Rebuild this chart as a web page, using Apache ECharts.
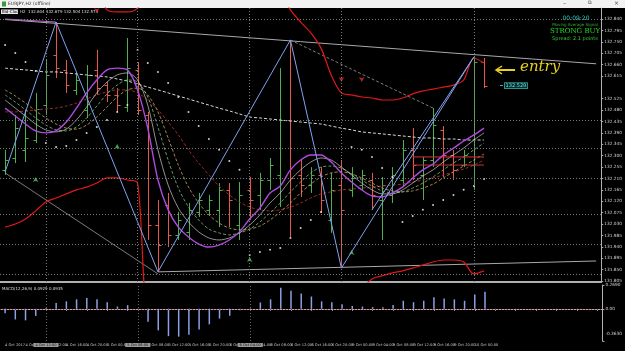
<!DOCTYPE html>
<html>
<head>
<meta charset="utf-8">
<script src="https://cdn.jsdelivr.net/npm/echarts@6/dist/echarts.min.js"></script>
<style>
html, body { margin: 0; padding: 0; background: #000; }
#main { width: 625px; height: 351px; }
</style>
</head>
<body>
<div id="main"></div>
<script>
// EURJPY H2 bars
var times = ['4 Oct 2017', '4 Oct 06:00', '4 Oct 08:00', '4 Oct 10:00', '4 Oct 12:00', '4 Oct 14:00', '4 Oct 16:00', '4 Oct 18:00', '4 Oct 20:00', '4 Oct 22:00',
	'5 Oct 00:00', '5 Oct 02:00', '5 Oct 04:00', '5 Oct 06:00', '5 Oct 08:00', '5 Oct 10:00', '5 Oct 12:00', '5 Oct 14:00', '5 Oct 16:00', '5 Oct 18:00', '5 Oct 20:00', '5 Oct 22:00',
	'6 Oct 00:00', '6 Oct 02:00', '6 Oct 04:00', '6 Oct 06:00', '6 Oct 08:00', '6 Oct 10:00', '6 Oct 12:00', '6 Oct 14:00', '6 Oct 16:00', '6 Oct 18:00', '6 Oct 20:00', '6 Oct 22:00',
	'9 Oct 00:00', '9 Oct 02:00', '9 Oct 04:00', '9 Oct 06:00', '9 Oct 08:00', '9 Oct 10:00', '9 Oct 12:00', '9 Oct 14:00', '9 Oct 16:00', '9 Oct 18:00', '9 Oct 20:00', '9 Oct 22:00',
	'10 Oct 00:00', '10 Oct 02:00',
	'', '', '', '', '', '', '', '', '', '', ''];

var opens = [132.244, 132.291, 132.323, 132.362, 132.500, 132.698, 132.639, 132.560, 132.481, 132.639, 132.579, 132.540, 132.492, 132.639, 132.461, 132.026, 132.105, 131.987, 131.999, 132.078, 132.086, 132.086, 132.165, 132.026, 132.165, 132.145, 132.204, 132.224, 132.441, 132.224, 132.184, 132.224, 132.046, 132.184, 132.165, 132.184, 132.204, 132.125, 132.145, 132.204, 132.323, 132.224, 132.283, 132.402, 132.303, 132.263, 132.263, 132.670];
var highs = [132.323, 132.461, 132.481, 132.548, 132.678, 132.828, 132.678, 132.631, 132.658, 132.718, 132.591, 132.567, 132.765, 132.670, 132.473, 132.125, 132.153, 132.078, 132.113, 132.153, 132.145, 132.192, 132.192, 132.196, 132.216, 132.232, 132.291, 132.646, 132.757, 132.283, 132.255, 132.255, 132.232, 132.283, 132.255, 132.244, 132.232, 132.216, 132.255, 132.362, 132.409, 132.295, 132.488, 132.417, 132.323, 132.323, 132.690, 132.686];
var lows = [132.224, 132.271, 132.275, 132.350, 132.461, 132.607, 132.548, 132.540, 132.449, 132.540, 132.512, 132.473, 132.473, 132.461, 131.967, 131.841, 131.939, 131.967, 131.967, 132.058, 132.066, 132.018, 132.018, 131.967, 132.046, 132.086, 132.165, 132.097, 131.979, 132.137, 132.153, 132.074, 131.995, 131.856, 132.137, 132.165, 132.086, 131.967, 132.113, 132.176, 132.204, 132.125, 132.255, 132.216, 132.204, 132.255, 132.165, 132.567];
var closes = [132.283, 132.409, 132.370, 132.485, 132.619, 132.646, 132.579, 132.599, 132.619, 132.567, 132.540, 132.500, 132.646, 132.481, 132.026, 131.947, 131.987, 132.046, 132.086, 132.125, 132.125, 132.165, 132.125, 132.145, 132.125, 132.204, 132.263, 132.441, 132.212, 132.184, 132.224, 132.125, 132.165, 132.086, 132.212, 132.224, 132.145, 132.184, 132.224, 132.323, 132.263, 132.283, 132.421, 132.303, 132.244, 132.303, 132.670, 132.575];

// moving averages
var maPurple = [132.488, 132.457, 132.425, 132.398, 132.390, 132.398, 132.433, 132.488, 132.548, 132.599, 132.639, 132.646, 132.639, 132.560, 132.409, 132.204, 132.086, 132.018, 131.979, 131.951, 131.939, 131.947, 131.967, 131.999, 132.050, 132.093, 132.153, 132.180, 132.244, 132.283, 132.303, 132.303, 132.275, 132.232, 132.196, 132.165, 132.141, 132.137, 132.153, 132.176, 132.212, 132.244, 132.267, 132.303, 132.330, 132.358, 132.382, 132.409];
var maWhite = [132.520, 132.488, 132.457, 132.425, 132.402, 132.394, 132.405, 132.441, 132.492, 132.548, 132.591, 132.619, 132.627, 132.599, 132.500, 132.323, 132.184, 132.093, 132.038, 131.999, 131.975, 131.967, 131.975, 131.995, 132.026, 132.066, 132.113, 132.153, 132.204, 132.244, 132.275, 132.291, 132.283, 132.255, 132.224, 132.192, 132.165, 132.149, 132.149, 132.165, 132.192, 132.220, 132.244, 132.275, 132.303, 132.330, 132.362, 132.390];
var maGreen = [132.540, 132.512, 132.481, 132.449, 132.421, 132.402, 132.398, 132.413, 132.449, 132.496, 132.544, 132.579, 132.599, 132.591, 132.532, 132.413, 132.283, 132.172, 132.097, 132.046, 132.010, 131.995, 131.987, 131.995, 132.010, 132.038, 132.074, 132.113, 132.157, 132.196, 132.232, 132.255, 132.259, 132.251, 132.228, 132.204, 132.180, 132.161, 132.153, 132.157, 132.172, 132.192, 132.216, 132.244, 132.271, 132.295, 132.323, 132.350];
var maYellow = [132.560, 132.536, 132.508, 132.477, 132.449, 132.425, 132.409, 132.405, 132.421, 132.453, 132.492, 132.532, 132.560, 132.567, 132.540, 132.473, 132.370, 132.263, 132.176, 132.113, 132.066, 132.034, 132.014, 132.007, 132.010, 132.022, 132.046, 132.078, 132.113, 132.153, 132.188, 132.216, 132.232, 132.236, 132.228, 132.212, 132.192, 132.172, 132.161, 132.157, 132.161, 132.172, 132.188, 132.212, 132.236, 132.259, 132.283, 132.307];
var maDarkRed = [132.473, 132.473, 132.477, 132.481, 132.485, 132.488, 132.496, 132.508, 132.524, 132.540, 132.552, 132.560, 132.560, 132.548, 132.520, 132.481, 132.433, 132.382, 132.323, 132.271, 132.224, 132.180, 132.145, 132.117, 132.097, 132.086, 132.082, 132.086, 132.097, 132.113, 132.133, 132.149, 132.157, 132.165, 132.168, 132.172, 132.176, 132.180, 132.184, 132.188, 132.196, 132.204, 132.212, 132.224, 132.236, 132.247, 132.263, 132.283];
var maLong = [132.646, 132.642, 132.639, 132.635, 132.631, 132.631, 132.627, 132.623, 132.619, 132.615, 132.611, 132.603, 132.595, 132.583, 132.571, 132.560, 132.548, 132.536, 132.524, 132.512, 132.500, 132.488, 132.477, 132.465, 132.453, 132.449, 132.445, 132.441, 132.437, 132.433, 132.429, 132.425, 132.417, 132.409, 132.402, 132.394, 132.390, 132.386, 132.382, 132.378, 132.374, 132.370, 132.370, 132.366, 132.366, 132.362, 132.362, 132.362];

// red envelope (values outside the window run off the chart)
var bandUpper = [132.95, 132.95, 132.95, 132.95, 132.95, 132.95, 132.95, 132.95, 132.95, 132.95, 132.876, 132.868, 132.868, 132.883, 132.95, 132.95, 132.95, 132.95, 132.95, 132.95, 132.95, 132.95, 132.95, 132.95, 132.95, 132.95, 132.95, 132.95, 132.876, 132.828, 132.785, 132.725, 132.619, 132.548, 132.540, 132.532, 132.528, 132.520, 132.520, 132.528, 132.544, 132.556, 132.563, 132.571, 132.579, 132.599, 132.686, 132.666];
var bandLower = [132.018, 132.030, 132.050, 132.082, 132.117, 132.133, 132.149, 132.165, 132.176, 132.192, 132.212, 132.212, 132.204, 132.192, 131.70, 131.70, 131.70, 131.70, 131.70, 131.70, 131.70, 131.70, 131.70, 131.70, 131.70, 131.70, 131.70, 131.70, 131.70, 131.70, 131.70, 131.70, 131.70, 131.70, 131.70, 131.770, 131.813, 131.825, 131.837, 131.845, 131.856, 131.868, 131.880, 131.888, 131.888, 131.880, 131.833, 131.845];

// parabolic SAR dots
var sar = [132.737, 132.706, 132.670, 132.635, 132.350, 132.334, 132.338, 132.362, 132.390, 132.413, 132.441, 132.473, 132.500, 132.718, 132.666, 132.631, 132.587, 132.532, 132.473, 132.417, 132.366, 132.323, 132.279, 132.244, 131.908, 131.920, 131.928, 131.935, 131.975, 132.014, 132.046, 132.078, null, null, 132.334, 132.323, 132.295, 132.251, 132.216, 132.038, 132.062, 132.086, 132.105, 132.125, 132.145, 132.165, 132.180, 132.208];

// zigzag swing points [bar, price]
var zigzag = [[0, 132.236], [5, 132.828], [15, 131.841], [28, 132.757], [33, 131.856], [46, 132.690]];
var zigzag2 = [[36, 132.086], [46, 132.690]];

// signal arrows [bar, price]
var buyArrows = [[3, 132.216], [11, 132.346], [24, 131.900], [34, 131.927]];
var sellArrows = [[9, 132.864], [33, 132.591], [35, 132.591]];

// trend lines [bar, price]
var trendTop = [[0, 132.838], [58, 132.663]];
var trendTopLeft = [[0, 132.840], [5, 132.828]];
var trendBottom = [[15, 131.841], [58, 131.884]];
var trendLeft = [[0, 132.232], [15, 131.833]];
var trendDash = [[28, 132.757], [42, 132.488]];
var levelRed1 = [[40, 132.295], [47, 132.295]];
var levelRed2 = [[40, 132.263], [47, 132.263]];

// dotted levels and vertical separators
var hLevels = [132.836, 132.445, 132.330, 132.212, 132.074, 131.951, 131.833];
var vLines = [4, 13, 24, 33, 46];
var vLineTags = [4, 13, 24];

// axis ticks
var priceTicks = [131.805, 131.850, 131.895, 131.940, 131.985, 132.030, 132.075, 132.120, 132.165, 132.210, 132.255, 132.300, 132.345, 132.390, 132.435, 132.480, 132.525, 132.615, 132.660, 132.705, 132.750, 132.795, 132.840];
var lastPrice = 132.575;

// MACD histogram
var macd = [-0.05, -0.12, -0.13, -0.08, 0.01, 0.065, 0.084, 0.107, 0.123, 0.107, 0.075, 0.026, 0.042, 0.005, -0.146, -0.243, -0.308, -0.314, -0.292, -0.233, -0.175, -0.11, -0.078, -0.016, 0.003, 0.071, 0.107, 0.237, 0.204, 0.172, 0.139, 0.084, 0.075, 0.052, 0.032, 0.026, 0.019, 0.019, 0.042, 0.091, 0.075, 0.091, 0.13, 0.117, 0.107, 0.091, 0.162, 0.194];
var macdTicks = [-0.363, 0, 0.269];

var upColor = '#4fae4f';
var downColor = '#e8584a';
var FONT = 'DejaVu Sans';

var chart = echarts.init(document.getElementById('main'));

var bars = [];
for (var i = 0; i < opens.length; i++) {
	bars.push([i, opens[i], highs[i], lows[i], closes[i]]);
}

/*OHLC bar, MT4 style*/
function renderBar(params, api) {
	var i = api.value(0);
	var o = api.coord([i, api.value(1)]);
	var h = api.coord([i, api.value(2)]);
	var l = api.coord([i, api.value(3)]);
	var c = api.coord([i, api.value(4)]);
	var w = api.size([1, 0])[0] * 0.3;
	var x = Math.round(h[0]) + 0.5;
	var col = api.value(4) >= api.value(1) ? upColor : downColor;
	var st = { stroke: col, lineWidth: 1 };
	return {
		type: 'group',
		children: [
			{ type: 'line', shape: { x1: x, y1: h[1], x2: x, y2: l[1] }, style: st },
			{ type: 'line', shape: { x1: x - w, y1: Math.round(o[1]) + 0.5, x2: x, y2: Math.round(o[1]) + 0.5 }, style: st },
			{ type: 'line', shape: { x1: x, y1: Math.round(c[1]) + 0.5, x2: x + w, y2: Math.round(c[1]) + 0.5 }, style: st }
		]
	};
}

function maLine(name, data, color, type, width) {
	return {
		name: name, type: 'line', data: data, xAxisIndex: 0, yAxisIndex: 0,
		symbol: 'none', smooth: 0.3, clip: true, silent: true,
		lineStyle: { color: color, width: width || 1, type: type || 'solid' }
	};
}

function segLine(data, color, type, width) {
	return {
		type: 'line', data: data, xAxisIndex: 0, yAxisIndex: 0,
		symbol: 'none', clip: true, silent: true,
		lineStyle: { color: color, width: width || 1, type: type || 'solid' }
	};
}

var zzData = zigzag.map(function(p, k) {
	var item = { value: p };
	if (k > 0) {
		var top = k % 2 == 1;
		item.label = {
			show: true, position: 'left',
			formatter: p[1].toFixed(3), fontSize: 4, fontFamily: FONT,
			color: '#fff', backgroundColor: k == 1 ? '#a040b0' : '#333',
			borderColor: k == 1 ? '#c060d0' : (top ? '#ddd' : '#6c6'), borderWidth: 0.5,
			padding: [0, 1], distance: 1
		};
	}
	return item;
});

var hLevelMarks = hLevels.map(function(v) {
	return { yAxis: v };
});
var vLineMarks = vLines.map(function(v) {
	return { xAxis: v };
});
var vTagMarks = vLineTags.map(function(v) {
	return { xAxis: v, label: { formatter: times[v] } };
});

option = {
	backgroundColor: '#000',
	animation: false,
	grid: [
		{ left: -4, right: 15, top: 8, bottom: 69 },
		{ left: -4, right: 15, top: 285, bottom: 10 }
	],
	xAxis: [{
		type: 'category', gridIndex: 0, data: times, boundaryGap: true,
		axisLabel: { show: false }, axisTick: { show: false },
		axisLine: { show: true, lineStyle: { color: '#b0b0b0', width: 2 } },
		splitLine: { show: false }
	}, {
		type: 'category', gridIndex: 1, data: times, boundaryGap: true,
		axisLabel: {
			interval: 1, fontSize: 3.6, fontFamily: FONT, color: '#c8c8c8',
			align: 'left', margin: 2
		},
		axisTick: { show: true, interval: 1, alignWithLabel: true, length: 2, lineStyle: { color: '#aaa' } },
		axisLine: { show: true, lineStyle: { color: '#b0b0b0' } },
		splitLine: { show: false }
	}],
	yAxis: [{
		type: 'value', gridIndex: 0, position: 'right',
		min: 131.801, max: 132.8835,
		axisLine: { show: true, lineStyle: { color: '#b0b0b0' } },
		axisTick: { show: true, customValues: priceTicks, length: 2, lineStyle: { color: '#aaa' } },
		axisLabel: {
			customValues: priceTicks, fontSize: 4.3, fontFamily: FONT, color: '#d0d0d0', margin: 3,
			formatter: function(v) { return v.toFixed(3); }
		},
		splitLine: { show: false }
	}, {
		type: 'value', gridIndex: 1, position: 'right',
		min: -0.363, max: 0.269,
		axisLine: { show: true, lineStyle: { color: '#b0b0b0' } },
		axisTick: { show: true, customValues: macdTicks, length: 2, lineStyle: { color: '#aaa' } },
		axisLabel: {
			customValues: macdTicks, fontSize: 4.3, fontFamily: FONT, color: '#d0d0d0', margin: 3,
			formatter: function(v) {
				if (v < 0) return '{lo|' + v.toFixed(4) + '}';
				if (v == 0) return '0.00';
				return v.toFixed(4);
			},
			rich: { lo: { fontSize: 4.3, fontFamily: FONT, color: '#d0d0d0', padding: [0, 0, 14, 0] } }
		},
		splitLine: { show: false }
	}],
	series: [
		// grid dots and separators
		{
			type: 'line', data: [], xAxisIndex: 0, yAxisIndex: 0, silent: true,
			markLine: {
				symbol: 'none', silent: true, animation: false,
				lineStyle: { color: '#7a7a7a', type: [1, 2], width: 1 },
				label: { show: false },
				data: hLevelMarks.concat(vLineMarks)
			}
		},
		segLine(trendLeft, '#9a9a9a', 'solid', 0.8),
		segLine(trendTop, '#a8a8a8', 'solid', 1),
		segLine(trendTopLeft, '#c060d0', 'solid', 1),
		segLine(trendBottom, '#a8a8a8', 'solid', 1),
		segLine(trendDash, '#9a9a9a', [3, 2], 0.8),
		maLine('long', maLong, '#d8d8d8', [3, 2], 1),
		maLine('upper', bandUpper, '#e01818', 'solid', 1.2),
		maLine('lower', bandLower, '#e01818', 'solid', 1.2),
		maLine('darkred', maDarkRed, '#9a2a2a', [3, 2], 1),
		maLine('yellow', maYellow, '#c8a860', [3, 2], 0.8),
		maLine('green', maGreen, '#7cc07c', [3, 2], 0.8),
		maLine('white', maWhite, '#cfcfcf', 'solid', 0.7),
		segLine(levelRed1, '#e03030', 'solid', 1),
		segLine(levelRed2, '#c03030', 'solid', 1),
		{
			type: 'custom', xAxisIndex: 0, yAxisIndex: 0, data: bars,
			renderItem: renderBar, silent: true,
			encode: { x: 0, y: [1, 2, 3, 4] },
			markLine: {
				symbol: 'none', silent: true, animation: false,
				lineStyle: { opacity: 0 },
				label: {
					show: true, position: 'end', distance: 1,
					fontSize: 4.3, fontFamily: FONT, color: '#000',
					backgroundColor: '#fff', padding: [1, 1],
					formatter: function(p) { return p.value.toFixed(3); }
				},
				data: [{ yAxis: lastPrice }]
			}
		},
		maLine('purple', maPurple, '#b04ae0', 'solid', 1.4),
		{
			type: 'line', data: zzData, xAxisIndex: 0, yAxisIndex: 0, silent: true,
			symbol: 'none', lineStyle: { color: '#7fa4f0', width: 1 }, clip: true
		},
		segLine(zigzag2, '#7fa4f0', 'solid', 1),
		{
			type: 'scatter', data: sar, xAxisIndex: 0, yAxisIndex: 0, silent: true,
			symbol: 'circle', symbolSize: 2, itemStyle: { color: '#fff' }
		},
		{
			type: 'scatter', data: buyArrows, xAxisIndex: 0, yAxisIndex: 0, silent: true,
			symbol: 'arrow', symbolSize: [4, 5], itemStyle: { color: '#5ad05a' }
		},
		{
			type: 'scatter', data: sellArrows, xAxisIndex: 0, yAxisIndex: 0, silent: true,
			symbol: 'arrow', symbolRotate: 180, symbolSize: [4, 5], itemStyle: { color: '#e83030' }
		},
		{
			type: 'bar', data: macd, xAxisIndex: 1, yAxisIndex: 1, silent: true,
			barWidth: 1.5, itemStyle: { color: '#8c9fe8' },
			markLine: {
				symbol: 'none', silent: true, animation: false,
				lineStyle: { color: '#a03030', type: [1, 2], width: 1 },
				label: { show: false },
				data: [{ yAxis: 0 }]
			}
		},
		// separators through the MACD pane, tagged on the time scale
		{
			type: 'line', data: [], xAxisIndex: 1, yAxisIndex: 1, silent: true,
			markLine: {
				symbol: 'none', silent: true, animation: false,
				lineStyle: { color: '#6a6a6a', type: [1, 2], width: 1 },
				label: {
					show: true, position: 'start', distance: 2,
					fontSize: 3.6, fontFamily: FONT, color: '#111',
					backgroundColor: '#9a9a9a', padding: [0, 2]
				},
				data: vTagMarks
			}
		}
	],
	graphic: [
		{ type: 'rect', left: 0, top: 0, shape: { width: 625, height: 8 }, style: { fill: '#f2f2f2' }, silent: true },
		{ type: 'rect', left: 2, top: 1.5, shape: { width: 4, height: 5 }, style: { fill: '#3a9a3a' }, silent: true },
		{ type: 'text', left: 8, top: 1.5, style: { text: 'EURJPY,H2 (offline)', fontSize: 4.5, fontFamily: FONT, fill: '#333' } },
		{ type: 'text', left: 563, top: 0, style: { text: '–', fontSize: 6, fontFamily: FONT, fill: '#444' } },
		{ type: 'text', left: 588, top: 0.5, style: { text: '⧉', fontSize: 5, fontFamily: FONT, fill: '#444' } },
		{ type: 'text', left: 614, top: 0, style: { text: '×', fontSize: 6, fontFamily: FONT, fill: '#444' } },
		{ type: 'rect', left: 1, top: 9.5, shape: { width: 17, height: 4.5 }, style: { fill: '#e8e8e8' }, silent: true },
		{ type: 'text', left: 2, top: 10, style: { text: 'Bid-Clock', fontSize: 4, fontFamily: FONT, fill: '#000' } },
		{ type: 'text', left: 20, top: 10, style: { text: 'H2  132.604 132.679 132.504 132.574', fontSize: 4, fontFamily: FONT, fill: '#ddd' } },
		{ type: 'text', left: 2, top: 287, style: { text: 'MACD(12,26,9) 0.0929 0.0935', fontSize: 4, fontFamily: FONT, fill: '#ddd' } },
		{ type: 'text', x: 576, y: 15, style: { text: '00:09:20', fontSize: 6, fontFamily: FONT, fill: '#3cc', align: 'center' } },
		{ type: 'text', x: 575, y: 22.5, style: { text: 'Moving Average Signal', fontSize: 4, fontFamily: FONT, fill: '#3a3', align: 'center' } },
		{ type: 'text', x: 575, y: 28, style: { text: 'STRONG BUY', fontSize: 7, fontFamily: 'DejaVu Serif', fill: '#2d2', align: 'center' } },
		{ type: 'text', x: 575, y: 36, style: { text: 'Spread: 2.1 points', fontSize: 5, fontFamily: FONT, fill: '#3c3', align: 'center' } },
		{ type: 'text', left: 520, top: 60, style: { text: 'entry', fontSize: 15, fontStyle: 'italic', fontFamily: 'DejaVu Serif', fill: '#e8d020' } },
		{ type: 'line', shape: { x1: 497, y1: 70, x2: 515, y2: 70 }, style: { stroke: '#e8d020', lineWidth: 2 } },
		{ type: 'polyline', shape: { points: [[502, 66], [496, 70], [502, 74]] }, style: { stroke: '#e8d020', lineWidth: 1.5, fill: null } },
		{ type: 'line', shape: { x1: 500, y1: 85.5, x2: 503, y2: 85.5 }, style: { stroke: '#4dd', lineWidth: 0.8 } },
		{ type: 'text', left: 504, top: 82.5, style: { text: '132.529', fontSize: 5, fontFamily: FONT, fill: '#5ee', backgroundColor: '#0b2b2b', borderColor: '#4cc', borderWidth: 0.6, padding: [0, 1] } }
	]
};

chart.setOption(option);
</script>
</body>
</html>
